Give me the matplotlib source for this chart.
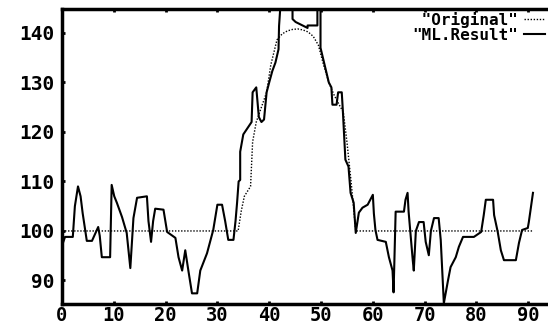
import matplotlib
matplotlib.use("Agg")
from matplotlib import pyplot as plt

# smooth curve ("Original", dotted)
orig_x = [0, 34, 34.6, 35.2, 36.4, 36.8, 37.5, 38.5, 39.5, 40.3, 41.5, 42.5, 43.5, 44.5,
          45.5, 46.5, 47.5, 48.5, 49.5, 50.5, 51.5, 52.5, 53.5, 54.3, 55, 55.8, 56.7, 91]
orig_y = [100, 100, 104, 107, 109, 118, 122, 125, 128, 133.5, 138.6, 139.8, 140.4, 140.7,
          140.8, 140.6, 140.2, 139.3, 137.5, 133.5, 130, 127.5, 125.5, 124, 118, 110, 100, 100]

# noisy curve ("ML.Result", solid)
ml_x = [0, 0.6, 2.1, 2.5, 3.1, 3.6, 4.0, 4.8, 5.8, 7.0,
        7.3, 7.7, 9.3, 9.6, 10.1, 10.6, 11.6, 12.5, 13.2, 13.8,
        14.5, 16.4, 16.7, 17.2, 17.6, 18.0, 19.6, 20.3, 21.9, 22.5,
        23.2, 23.8, 24.4, 25.1, 26.1, 26.7, 28.0, 29.2, 30.0, 30.9,
        31.5, 32.1, 33.1, 33.5, 33.8, 34.1, 34.4, 34.4, 35.0, 36.6,
        36.8, 37.5, 38.0, 38.5, 39.0, 39.5, 40.0, 40.6, 41.2, 41.8,
        41.9, 42.2, 44.5, 44.5, 45.1, 47.4, 47.4, 49.3, 49.3, 49.9,
        49.9, 51.5, 52.0, 52.2, 53.0, 53.3, 54.0, 54.2, 54.7, 55.3,
        55.7, 56.3, 56.7, 57.3, 58.0, 59.0, 60.0, 60.2, 60.5, 60.9,
        62.5, 63.1, 63.8, 64.0, 64.4, 66.0, 66.3, 66.7, 66.9, 67.7,
        67.9, 68.3, 68.9, 69.8, 70.2, 70.8, 71.2, 71.8, 72.7, 73.1,
        73.5, 73.7, 74.5, 75.0, 76.0, 76.6, 77.4, 79.5, 80.9, 81.4,
        81.8, 83.2, 83.4, 84.1, 84.7, 85.3, 87.6, 88.2, 88.8, 89.9,
        90.1, 90.9]
ml_y = [97, 98.8, 98.8, 105, 109, 107, 103.6, 98, 98, 100.8,
        99, 94.7, 94.7, 109.3, 107, 105.7, 102.8, 99.6, 92.5, 102.6,
        106.7, 107, 102, 97.8, 102, 104.5, 104.3, 99.8, 98.6, 94.7,
        92, 96.1, 92, 87.4, 87.4, 92, 95.5, 100.2, 105.3, 105.3,
        102, 98.2, 98.2, 102, 105.7, 110, 110.3, 116, 119.5, 122,
        128, 129, 123, 122, 122.5, 128, 130, 132.3, 134, 136.7,
        141.4, 146, 146, 142.8, 142.2, 141, 141.5, 141.5, 146, 146,
        137, 130, 129, 125.5, 125.5, 128, 128, 124.5, 114.4, 113,
        107.7, 105.7, 99.6, 103.7, 104.7, 105.3, 107.3, 103.5, 100.2, 98.2,
        97.8, 94.7, 92, 87.6, 103.9, 103.9, 106.3, 107.7, 103.9, 94.1,
        92, 100, 101.8, 101.8, 97.8, 95.1, 100, 102.6, 102.6, 98.2,
        89.5, 85.4, 90, 92.7, 94.7, 96.8, 98.8, 98.8, 99.8, 103.2,
        106.3, 106.3, 103.2, 99.8, 96.1, 94.1, 94.1, 97.6, 100.2, 100.6,
        101.8, 107.7]

xticks = [0, 10, 20, 30, 40, 50, 60, 70, 80, 90]
yticks = [90, 100, 110, 120, 130, 140]

fig = plt.figure(figsize=(5.48, 3.29), dpi=100)
ax = fig.add_axes([0.113, 0.076, 0.887, 0.897])

ax.plot(orig_x, orig_y, color="k", linewidth=1.0, linestyle=(0, (1, 1.2)),
        label=' "Original"')
ax.plot(ml_x, ml_y, color="k", linewidth=1.5, label='"ML.Result"')

ax.set_xlim(0, 93.8)
ax.set_ylim(85.25, 144.85)
ax.set_xticks(xticks)
ax.set_yticks(yticks)

for side in ["left", "bottom", "top"]:
    ax.spines[side].set_linewidth(2.5)
ax.spines["right"].set_visible(False)

ax.tick_params(direction="in", length=2, width=2, top=True, right=False)
ax.tick_params(axis="x", pad=1.5)
ax.tick_params(axis="y", pad=5)
for lab in ax.get_xticklabels() + ax.get_yticklabels():
    lab.set_fontfamily("DejaVu Sans Mono")
    lab.set_fontweight("bold")
    lab.set_fontsize(14)
for lab in ax.get_xticklabels():
    lab.set_fontsize(13.5)

ax.legend(loc="upper right", frameon=False, markerfirst=False,
          prop={"family": "DejaVu Sans Mono", "weight": "bold", "size": 11.5},
          handlelength=1.3, handletextpad=0.4, labelspacing=0.0,
          borderaxespad=0.0, borderpad=0.2)

fig.savefig("out.png", dpi=100)
